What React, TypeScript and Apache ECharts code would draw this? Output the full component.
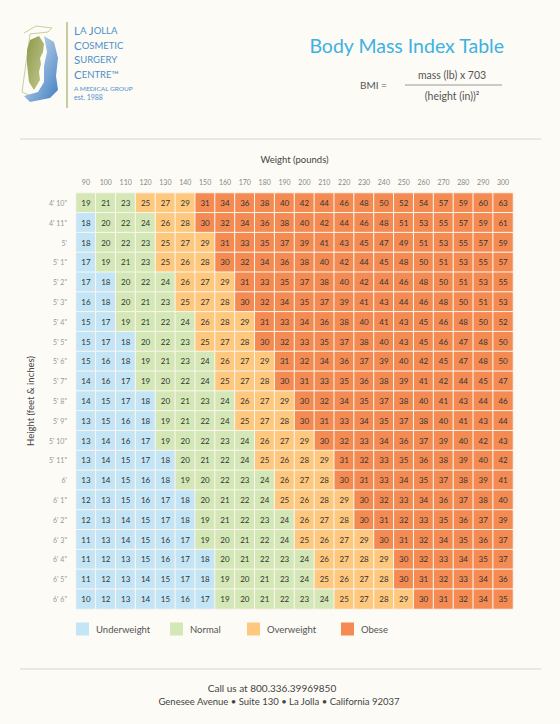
import React, { useEffect, useRef } from "react";
import * as echarts from "echarts";

const weights = [90, 100, 110, 120, 130, 140, 150, 160, 170, 180, 190, 200, 210, 220, 230, 240, 250, 260, 270, 280, 290, 300];

const heights = [
  `4' 10"`, `4' 11"`, `5'`, `5' 1"`, `5' 2"`, `5' 3"`, `5' 4"`, `5' 5"`, `5' 6"`, `5' 7"`, `5' 8"`,
  `5' 9"`, `5' 10"`, `5' 11"`, `6'`, `6' 1"`, `6' 2"`, `6' 3"`, `6' 4"`, `6' 5"`, `6' 6"`,
];

const bmiValues = [
  [19, 21, 23, 25, 27, 29, 31, 34, 36, 38, 40, 42, 44, 46, 48, 50, 52, 54, 57, 59, 60, 63],
  [18, 20, 22, 24, 26, 28, 30, 32, 34, 36, 38, 40, 42, 44, 46, 48, 51, 53, 55, 57, 59, 61],
  [18, 20, 22, 23, 25, 27, 29, 31, 33, 35, 37, 39, 41, 43, 45, 47, 49, 51, 53, 55, 57, 59],
  [17, 19, 21, 23, 25, 26, 28, 30, 32, 34, 36, 38, 40, 42, 44, 45, 48, 50, 51, 53, 55, 57],
  [17, 18, 20, 22, 24, 26, 27, 29, 31, 33, 35, 37, 38, 40, 42, 44, 46, 48, 50, 51, 53, 55],
  [16, 18, 20, 21, 23, 25, 27, 28, 30, 32, 34, 35, 37, 39, 41, 43, 44, 46, 48, 50, 51, 53],
  [15, 17, 19, 21, 22, 24, 26, 28, 29, 31, 33, 34, 36, 38, 40, 41, 43, 45, 46, 48, 50, 52],
  [15, 17, 18, 20, 22, 23, 25, 27, 28, 30, 32, 33, 35, 37, 38, 40, 43, 45, 46, 47, 48, 50],
  [15, 16, 18, 19, 21, 23, 24, 26, 27, 29, 31, 32, 34, 36, 37, 39, 40, 42, 45, 47, 48, 50],
  [14, 16, 17, 19, 20, 22, 24, 25, 27, 28, 30, 31, 33, 35, 36, 38, 39, 41, 42, 44, 45, 47],
  [14, 15, 17, 18, 20, 21, 23, 24, 26, 27, 29, 30, 32, 34, 35, 37, 38, 40, 41, 43, 44, 46],
  [13, 15, 16, 18, 19, 21, 22, 24, 25, 27, 28, 30, 31, 33, 34, 35, 37, 38, 40, 41, 43, 44],
  [13, 14, 16, 17, 19, 20, 22, 23, 24, 26, 27, 29, 30, 32, 33, 34, 36, 37, 39, 40, 42, 43],
  [13, 14, 15, 17, 18, 20, 21, 22, 24, 25, 26, 28, 29, 31, 32, 33, 35, 36, 38, 39, 40, 42],
  [13, 14, 15, 16, 18, 19, 20, 22, 23, 24, 26, 27, 28, 30, 31, 33, 34, 35, 37, 38, 39, 41],
  [12, 13, 15, 16, 17, 18, 20, 21, 22, 24, 25, 26, 28, 29, 30, 32, 33, 34, 36, 37, 38, 40],
  [12, 13, 14, 15, 17, 18, 19, 21, 22, 23, 24, 26, 27, 28, 30, 31, 32, 33, 35, 36, 37, 39],
  [11, 13, 14, 15, 16, 17, 19, 20, 21, 22, 24, 25, 26, 27, 29, 30, 31, 32, 34, 35, 36, 37],
  [11, 12, 13, 15, 16, 17, 18, 20, 21, 22, 23, 24, 26, 27, 28, 29, 30, 32, 33, 34, 35, 37],
  [11, 12, 13, 14, 15, 17, 18, 19, 20, 21, 23, 24, 25, 26, 27, 28, 30, 31, 32, 33, 34, 36],
  [10, 12, 13, 14, 15, 16, 17, 19, 20, 21, 22, 23, 24, 25, 27, 28, 29, 30, 31, 32, 34, 35],
];

const categoryNames = ["Underweight", "Normal", "Overweight", "Obese"];
const categoryColors = ["#c4e5f6", "#d4e7b6", "#fec87e", "#f38b53"];

const FONT = "Lato, 'Open Sans', sans-serif";
const BG = "#fcfbf6";
const LOGO_BLUE = "#4f8fcb";

export default function App() {
  const ref = useRef<HTMLDivElement>(null);

  useEffect(() => {
    document.body.style.margin = "0";
    if (!ref.current) return;
    const chart = echarts.init(ref.current, undefined, { renderer: "svg" });

    const data: number[][] = [];
    bmiValues.forEach((row, yi) => {
      row.forEach((v, xi) => data.push([xi, yi, v]));
    });

    const logoText = (y: number, parts: [string, boolean][]) => ({
      type: "text",
      x: 74,
      y,
      style: {
        text: parts.map(([t, big]) => `{${big ? "b" : "s"}|${t}}`).join(""),
        rich: {
          b: { fontSize: 11.5, lineHeight: 12, fontFamily: FONT, fill: LOGO_BLUE, color: LOGO_BLUE },
          s: { fontSize: 9.5, lineHeight: 12, fontFamily: FONT, fill: LOGO_BLUE, color: LOGO_BLUE },
        },
        textVerticalAlign: "middle",
        verticalAlign: "middle",
      },
    });

    const legendX = [76, 170, 247, 341];
    const legendGraphics: any[] = [];
    categoryNames.forEach((name, i) => {
      legendGraphics.push({
        type: "rect",
        shape: { x: legendX[i], y: 622.5, width: 13, height: 13 },
        style: { fill: categoryColors[i] },
      });
      legendGraphics.push({
        type: "text",
        x: legendX[i] + 20,
        y: 629,
        style: { text: name, fontSize: 9.5, fontFamily: FONT, fill: "#555", textVerticalAlign: "middle", verticalAlign: "middle" },
      });
    });

    const centerText = (x: number, y: number, text: string, size: number, fill = "#555") => ({
      type: "text",
      x,
      y,
      style: { text, fontSize: size, fontFamily: FONT, fill, textAlign: "center", align: "center", textVerticalAlign: "middle", verticalAlign: "middle" },
    });

    chart.setOption({
      animation: false,
      backgroundColor: BG,
      textStyle: { fontFamily: FONT },
      grid: { left: 76, right: 47, top: 193, bottom: 115 },
      xAxis: {
        type: "category",
        data: weights.map(String),
        position: "top",
        name: "Weight (pounds)",
        nameLocation: "middle",
        nameGap: 29,
        nameTextStyle: { fontSize: 9.5, color: "#444", fontFamily: FONT },
        axisLine: { show: false },
        axisTick: { show: false },
        axisLabel: { fontSize: 7, color: "#888", margin: 8, fontFamily: FONT },
      },
      yAxis: {
        type: "category",
        data: heights,
        inverse: true,
        name: "Height (feet & inches)",
        nameLocation: "middle",
        nameGap: 41,
        nameRotate: 90,
        nameTextStyle: { fontSize: 9.5, color: "#444", fontFamily: FONT },
        axisLine: { show: false },
        axisTick: { show: false },
        axisLabel: { fontSize: 7, color: "#999", margin: 9, fontFamily: FONT },
      },
      visualMap: {
        type: "piecewise",
        show: false,
        dimension: 2,
        pieces: [
          { lt: 18.5, label: categoryNames[0], color: categoryColors[0] },
          { gte: 18.5, lt: 24.5, label: categoryNames[1], color: categoryColors[1] },
          { gte: 24.5, lt: 29.5, label: categoryNames[2], color: categoryColors[2] },
          { gte: 29.5, label: categoryNames[3], color: categoryColors[3] },
        ],
      },
      series: [
        {
          type: "heatmap",
          data,
          itemStyle: { borderColor: "#fdf6ee", borderWidth: 1 },
          label: {
            show: true,
            fontSize: 8,
            color: "#333",
            fontFamily: FONT,
            formatter: (p: any) => String(p.value[2]),
          },
          emphasis: { disabled: true },
        },
      ],
      graphic: [
        {
          type: "polyline",
          shape: { points: [[24, 33], [36, 26], [52, 28], [48, 32], [30, 34], [22, 92], [36, 98]] },
          style: { stroke: "#c9cf9e", lineWidth: 1, fill: null },
        },
        {
          type: "polygon",
          shape: { points: [[30, 40], [39, 36], [44, 44], [43, 52], [40, 58], [41, 64], [39, 72], [40, 80], [34, 90], [29, 82], [27, 64], [27, 50]] },
          style: {
            fill: new echarts.graphic.LinearGradient(0, 0, 1, 1, [
              { offset: 0, color: "#8e9a4c" },
              { offset: 1, color: "#c2c98f" },
            ]),
          },
        },
        {
          type: "polygon",
          shape: { points: [[44, 36], [54, 42], [58, 58], [56, 76], [58, 90], [50, 98], [30, 102], [24, 96], [38, 92], [44, 82], [44, 66], [47, 52]] },
          style: {
            fill: new echarts.graphic.LinearGradient(0, 0, 1, 1, [
              { offset: 0, color: "#e0eaf4" },
              { offset: 1, color: "#3f7fc2" },
            ]),
          },
        },
        {
          type: "line",
          shape: { x1: 67, y1: 22, x2: 67, y2: 108 },
          style: { stroke: "#a3ac68", lineWidth: 1.2 },
        },
        logoText(30.5, [["L", true], ["A ", false], ["J", true], ["OLLA", false]]),
        logoText(45, [["C", true], ["OSMETIC", false]]),
        logoText(59.5, [["S", true], ["URGERY", false]]),
        logoText(74, [["C", true], ["ENTRE™", false]]),
        {
          type: "text",
          x: 74,
          y: 88,
          style: { text: "A MEDICAL GROUP", fontSize: 6.5, fontFamily: FONT, fill: LOGO_BLUE, textVerticalAlign: "middle", verticalAlign: "middle" },
        },
        {
          type: "text",
          x: 74,
          y: 97,
          style: { text: "est. 1988", fontSize: 7, fontFamily: FONT, fill: LOGO_BLUE, textVerticalAlign: "middle", verticalAlign: "middle" },
        },
        {
          type: "text",
          x: 504,
          y: 45,
          style: { text: "Body Mass Index Table", fontSize: 19.5, fontFamily: FONT, fill: "#3db2e2", textAlign: "right", align: "right", textVerticalAlign: "middle", verticalAlign: "middle" },
        },
        {
          type: "text",
          x: 360,
          y: 85,
          style: { text: "BMI =", fontSize: 10, fontFamily: FONT, fill: "#555", textVerticalAlign: "middle", verticalAlign: "middle" },
        },
        centerText(452, 75, "mass (lb) x 703", 10.5),
        {
          type: "line",
          shape: { x1: 405, y1: 85, x2: 502, y2: 85 },
          style: { stroke: "#999", lineWidth: 1 },
        },
        centerText(452, 96, "(height (in))²", 10.5),
        {
          type: "line",
          shape: { x1: 20, y1: 139, x2: 541, y2: 139 },
          style: { stroke: "#d6d6d2", lineWidth: 1 },
        },
        ...legendGraphics,
        {
          type: "line",
          shape: { x1: 20, y1: 669, x2: 541, y2: 669 },
          style: { stroke: "#d6d6d2", lineWidth: 1 },
        },
        centerText(272, 688, "Call us at 800.336.39969850", 10, "#444"),
        centerText(279, 701, "Genesee Avenue • Suite 130 • La Jolla • California 92037", 9.5, "#444"),
      ],
    });

    return () => chart.dispose();
  }, []);

  return <div ref={ref} style={{ width: 560, height: 724 }} />;
}
